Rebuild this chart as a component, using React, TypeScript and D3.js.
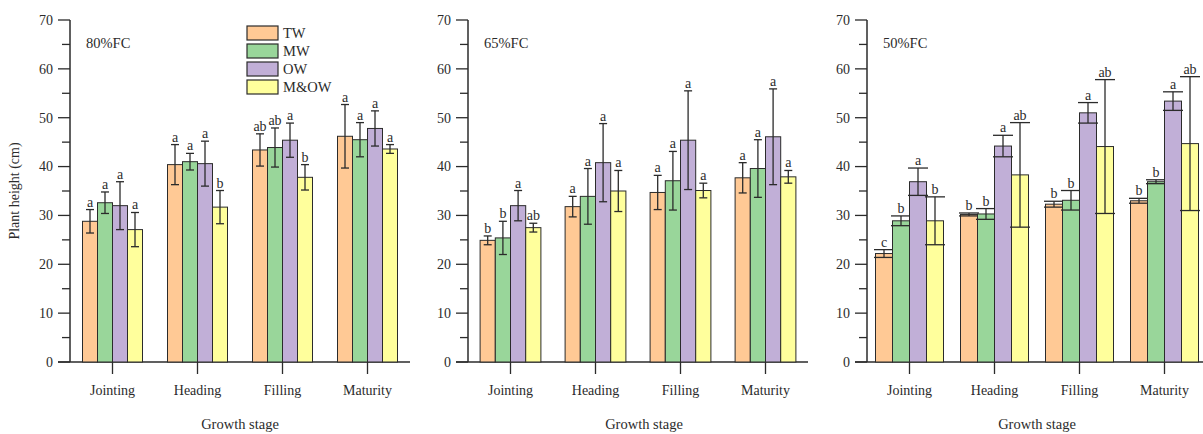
import React, { useEffect, useRef } from "react";
import * as d3 from "d3";

const stages = ["Jointing", "Heading", "Filling", "Maturity"];
const treatments = ["TW", "MW", "OW", "M&OW"];
const colors = ["#FFC995", "#99D69A", "#C1AFD7", "#FFFF9C"];
const panelTitles = ["80%FC", "65%FC", "50%FC"];
const yTicks = [0, 10, 20, 30, 40, 50, 60, 70];

// values per panel, rows = treatment, cols = stage
const mean80 = [
  [28.8, 40.4, 43.4, 46.2],
  [32.6, 41.0, 43.9, 45.5],
  [32.0, 40.6, 45.4, 47.8],
  [27.1, 31.7, 37.8, 43.6],
];
const err80 = [
  [2.4, 4.1, 3.3, 6.5],
  [2.2, 1.7, 4.0, 3.5],
  [4.9, 4.6, 3.5, 3.6],
  [3.5, 3.4, 2.6, 0.9],
];
const sig80 = [
  ["a", "a", "ab", "a"],
  ["a", "a", "ab", "a"],
  ["a", "a", "a", "a"],
  ["a", "b", "b", "a"],
];
const mean65 = [
  [24.9, 31.8, 34.7, 37.7],
  [25.4, 33.9, 37.1, 39.6],
  [32.0, 40.8, 45.4, 46.1],
  [27.5, 35.0, 35.1, 37.9],
];
const err65 = [
  [0.9, 2.1, 3.5, 3.1],
  [3.4, 5.7, 6.0, 5.9],
  [3.1, 8.0, 10.1, 9.8],
  [0.9, 4.2, 1.5, 1.3],
];
const sig65 = [
  ["b", "a", "a", "a"],
  ["b", "a", "a", "a"],
  ["a", "a", "a", "a"],
  ["ab", "a", "a", "a"],
];
const mean50 = [
  [22.2, 30.2, 32.3, 33.0],
  [28.9, 30.3, 33.1, 36.9],
  [36.9, 44.2, 51.0, 53.4],
  [28.9, 38.3, 44.1, 44.7],
];
const err50 = [
  [0.8, 0.3, 0.6, 0.5],
  [1.0, 1.1, 2.0, 0.4],
  [2.8, 2.2, 2.1, 1.9],
  [4.9, 10.7, 13.7, 13.7],
];
const sig50 = [
  ["c", "b", "b", "b"],
  ["b", "b", "b", "b"],
  ["a", "a", "a", "a"],
  ["b", "ab", "ab", "ab"],
];

const panels = [
  { title: panelTitles[0], mean: mean80, err: err80, sig: sig80, x0: 70, barW: 15, wideCaps: false, legend: true, labelShift: 0 },
  { title: panelTitles[1], mean: mean65, err: err65, sig: sig65, x0: 468, barW: 15.2, wideCaps: false, legend: false, labelShift: 6 },
  { title: panelTitles[2], mean: mean50, err: err50, sig: sig50, x0: 867, barW: 17, wideCaps: true, legend: false, labelShift: 0 },
];

const W = 1203;
const H = 434;
const top = 20;
const bottom = 362;
const plotW = 340;
const font = "'Liberation Serif', 'Times New Roman', serif";
const ink = "#2b2b2b";

export default function App() {
  const ref = useRef<SVGSVGElement>(null);

  useEffect(() => {
    const svg = d3.select(ref.current);
    svg.selectAll("*").remove();

    const y = d3.scaleLinear().domain([0, 70]).range([bottom, top]);

    svg
      .append("text")
      .attr("transform", `translate(19,${(top + bottom) / 2}) rotate(-90)`)
      .attr("text-anchor", "middle")
      .attr("font-family", font)
      .attr("font-size", 14)
      .attr("fill", ink)
      .text("Plant height (cm)");

    panels.forEach((p) => {
      const g = svg.append("g");
      const x = d3.scaleBand().domain(stages).range([p.x0, p.x0 + plotW]);
      const xs = d3
        .scaleBand()
        .domain(treatments)
        .range([-2 * p.barW, 2 * p.barW]);

      // y axis
      g.append("line")
        .attr("x1", p.x0).attr("x2", p.x0)
        .attr("y1", top).attr("y2", bottom)
        .attr("stroke", ink).attr("stroke-width", 1.5);
      d3.range(0, 71, 5).forEach((v) => {
        const major = v % 10 === 0;
        g.append("line")
          .attr("x1", p.x0 - (major ? 12 : 8)).attr("x2", p.x0)
          .attr("y1", y(v)).attr("y2", y(v))
          .attr("stroke", ink).attr("stroke-width", 1.3);
      });
      yTicks.forEach((v) => {
        g.append("text")
          .attr("x", p.x0 - 17)
          .attr("y", y(v))
          .attr("dy", "0.35em")
          .attr("text-anchor", "end")
          .attr("font-family", font)
          .attr("font-size", 14)
          .attr("fill", ink)
          .text(v);
      });

      // x axis
      g.append("line")
        .attr("x1", p.x0 - 12).attr("x2", p.x0 + plotW)
        .attr("y1", bottom).attr("y2", bottom)
        .attr("stroke", ink).attr("stroke-width", 1.5);
      stages.forEach((s) => {
        const cx = x(s)! + x.bandwidth() / 2;
        g.append("line")
          .attr("x1", cx).attr("x2", cx)
          .attr("y1", bottom).attr("y2", bottom + 12)
          .attr("stroke", ink).attr("stroke-width", 1.3);
        g.append("text")
          .attr("x", cx).attr("y", 395)
          .attr("text-anchor", "middle")
          .attr("font-family", font)
          .attr("font-size", 14)
          .attr("fill", ink)
          .text(s);
      });
      g.append("text")
        .attr("x", p.x0 + plotW / 2 + p.labelShift).attr("y", 429)
        .attr("text-anchor", "middle")
        .attr("font-family", font)
        .attr("font-size", 14.5)
        .attr("fill", ink)
        .text("Growth stage");

      g.append("text")
        .attr("x", p.x0 + 16).attr("y", 48)
        .attr("font-family", font)
        .attr("font-size", 14.5)
        .attr("fill", ink)
        .text(p.title);

      // bars
      treatments.forEach((t, ti) => {
        stages.forEach((s, si) => {
          const cx = x(s)! + x.bandwidth() / 2;
          const bx = cx + xs(t)!;
          const m = p.mean[ti][si];
          const e = p.err[ti][si];
          const mid = bx + p.barW / 2;
          g.append("rect")
            .attr("x", bx).attr("y", y(m))
            .attr("width", p.barW).attr("height", bottom - y(m))
            .attr("fill", colors[ti])
            .attr("stroke", ink).attr("stroke-width", 1);
          const capW = p.wideCaps ? p.barW + 3 : 8;
          g.append("line")
            .attr("x1", mid).attr("x2", mid)
            .attr("y1", y(m + e)).attr("y2", y(m - e))
            .attr("stroke", ink).attr("stroke-width", 1.3);
          [m + e, m - e].forEach((v) => {
            g.append("line")
              .attr("x1", mid - capW / 2).attr("x2", mid + capW / 2)
              .attr("y1", y(v)).attr("y2", y(v))
              .attr("stroke", ink).attr("stroke-width", 1.3);
          });
          g.append("text")
            .attr("x", mid).attr("y", y(m + e) - 3)
            .attr("text-anchor", "middle")
            .attr("font-family", font)
            .attr("font-size", 14)
            .attr("fill", ink)
            .text(p.sig[ti][si]);
        });
      });

      if (p.legend) {
        treatments.forEach((t, ti) => {
          const ly = 33 + ti * 18;
          g.append("rect")
            .attr("x", 247).attr("y", ly - 7)
            .attr("width", 31).attr("height", 14)
            .attr("fill", colors[ti])
            .attr("stroke", ink).attr("stroke-width", 1.2);
          g.append("text")
            .attr("x", 283).attr("y", ly)
            .attr("dy", "0.35em")
            .attr("font-family", font)
            .attr("font-size", 14.5)
            .attr("fill", ink)
            .text(t);
        });
      }
    });
  }, []);

  return (
    <svg
      ref={ref}
      width={W}
      height={H}
      style={{ position: "absolute", left: 0, top: 0, background: "#fff" }}
    />
  );
}
